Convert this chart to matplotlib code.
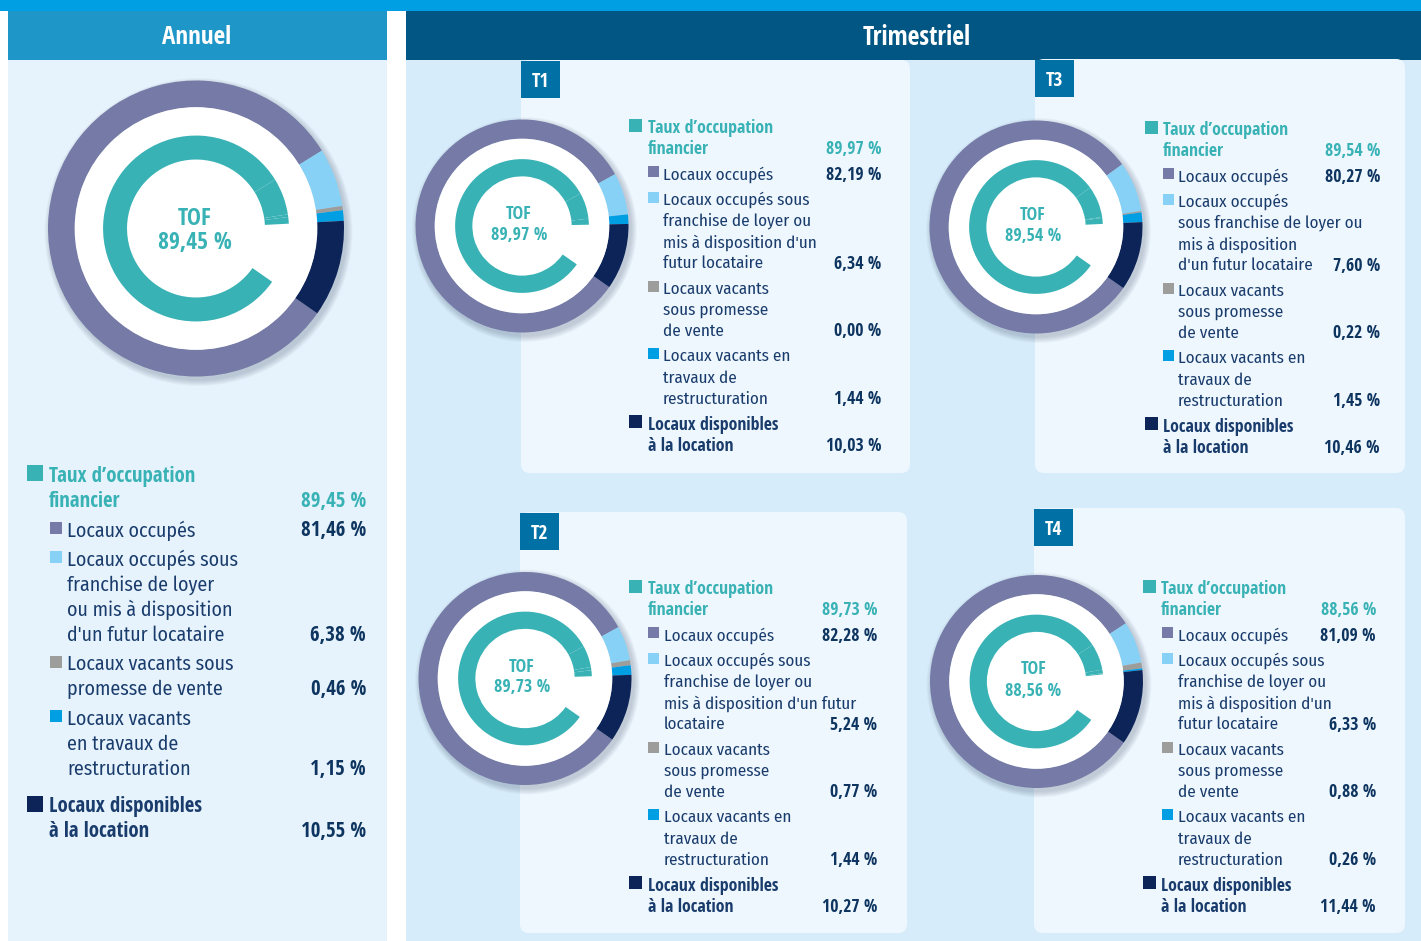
# Librairies
import matplotlib.pyplot as plt
from matplotlib.patches import Rectangle, FancyBboxPatch, Circle

bold_family = ['Open Sans Condensed', 'Fira Sans Condensed', 'DejaVu Sans']
regular_family = ['Open Sans Condensed Light', 'Fira Sans Condensed', 'Asap Condensed', 'DejaVu Sans']
plt.rcParams['font.family'] = bold_family

# Data
periodes = ["Annuel", "T1", "T2", "T3", "T4"]
tof = [89.45, 89.97, 89.73, 89.54, 88.56]
occupes = [81.46, 82.19, 82.28, 80.27, 81.09]
franchise = [6.38, 6.34, 5.24, 7.60, 6.33]
promesse = [0.46, 0.00, 0.77, 0.22, 0.88]
travaux = [1.15, 1.44, 1.44, 1.45, 0.26]
disponibles = [10.55, 10.03, 10.27, 10.46, 11.44]

labels_annuel = ["Taux d’occupation\nfinancier", "Locaux occupés",
                 "Locaux occupés sous\nfranchise de loyer\nou mis à disposition\nd'un futur locataire",
                 "Locaux vacants sous\npromesse de vente",
                 "Locaux vacants\nen travaux de\nrestructuration",
                 "Locaux disponibles\nà la location"]
labels_t1 = ["Taux d’occupation\nfinancier", "Locaux occupés",
             "Locaux occupés sous\nfranchise de loyer ou\nmis à disposition d'un\nfutur locataire",
             "Locaux vacants\nsous promesse\nde vente",
             "Locaux vacants en\ntravaux de\nrestructuration",
             "Locaux disponibles\nà la location"]
labels_t2 = ["Taux d’occupation\nfinancier", "Locaux occupés",
             "Locaux occupés sous\nfranchise de loyer ou\nmis à disposition d'un futur\nlocataire",
             "Locaux vacants\nsous promesse\nde vente",
             "Locaux vacants en\ntravaux de\nrestructuration",
             "Locaux disponibles\nà la location"]
labels_t3 = ["Taux d’occupation\nfinancier", "Locaux occupés",
             "Locaux occupés\nsous franchise de loyer ou\nmis à disposition\nd'un futur locataire",
             "Locaux vacants\nsous promesse\nde vente",
             "Locaux vacants en\ntravaux de\nrestructuration",
             "Locaux disponibles\nà la location"]
labels_t4 = labels_t1
labels = [labels_annuel, labels_t1, labels_t2, labels_t3, labels_t4]

# Colours
teal = '#38b2b5'
ring_colors = ['#757aa6', '#86d1f5', '#9d9d9c', '#009fe3', '#0c2458']
legend_colors = [teal] + ring_colors
txt_col = '#1a3c6c'
val_col = '#0e3460'

W, H = 1421, 941
fig = plt.figure(figsize=(W / 100, H / 100), dpi=100)
fig.patch.set_facecolor('white')
ax = fig.add_axes([0, 0, 1, 1])
ax.set_xlim(0, W)
ax.set_ylim(H, 0)
ax.axis('off')

# Background panels
ax.add_patch(Rectangle((0, 0), W, 11, color='#009fe3', lw=0))
ax.add_patch(Rectangle((8, 11), 379, 49, color='#1e96c8', lw=0))
ax.add_patch(Rectangle((8, 60), 379, 881, color='#e6f3fc', lw=0))
ax.add_patch(Rectangle((406, 11), W - 406, 49, color='#025683', lw=0))
ax.add_patch(Rectangle((406, 60), W - 406, 881, color='#d7ecfa', lw=0))
ax.text(197, 37, "Annuel", color='white', fontsize=18, ha='center', va='center')
ax.text(917, 37, "Trimestriel", color='white', fontsize=18.5, ha='center', va='center')

# Cards (x, y, w, h) and tag boxes
cards = {"T1": (521, 60, 389, 413), "T2": (520, 512, 387, 421),
         "T3": (1035, 59, 370, 414), "T4": (1034, 508, 371, 425)}
for name, (x, y, w, h) in cards.items():
    ax.add_patch(FancyBboxPatch((x, y), w, h, boxstyle="round,pad=0,rounding_size=9",
                                fc='#eef7fe', ec='none'))
    ax.add_patch(Rectangle((x, y + 1), 39, 37, color='#0070a5', lw=0))
    ax.text(x + 19.5, y + 22, name, color='white', fontsize=14, ha='center', va='center')


def fmt(v):
    return f"{v:.2f}".replace('.', ',') + " %"


def donut(cx, cy, R, vals, tof_val, fs, dy_tof, dy_val, dx):
    h = R + 14
    a = fig.add_axes([(cx - h) / W, 1 - (cy + h) / H, 2 * h / W, 2 * h / H])
    for k in range(7):
        a.add_patch(Circle((2.5, -3.5), R + 0.5 + k * 0.9, color='#1c2a4a', alpha=0.03, lw=0))
    a.pie(vals, colors=ring_colors, radius=R, startangle=-35, counterclock=False,
          wedgeprops=dict(width=0.182 * R, linewidth=0))
    a.add_patch(Circle((0, 0), 0.82 * R, color='white', lw=0, zorder=2))
    a.pie(vals, colors=[teal] * 4 + ['none'], radius=0.628 * R, startangle=-35, counterclock=False,
          wedgeprops=dict(width=0.162 * R, linewidth=0, zorder=3))
    a.set_xlim(-h, h)
    a.set_ylim(-h, h)
    a.axis('off')
    a.text(dx, -dy_tof, "TOF", color=teal, fontsize=fs, ha='center', va='center', zorder=5)
    a.text(dx, -dy_val, fmt(tof_val), color=teal, fontsize=fs, ha='center', va='center', zorder=5)


def legend(i, x_sq, x_sub_sq, x_txt, x_sub_txt, y0, lh, gap, extra, vx, fs, sqb, sqs):
    vals = [tof[i], occupes[i], franchise[i], promesse[i], travaux[i], disponibles[i]]
    y = y0
    for k, (lab, v) in enumerate(zip(labels[i], vals)):
        lines = lab.split('\n')
        if k == 5:
            y += extra
        main = k in (0, 5)
        sq = sqb if main else sqs
        xs = x_sq if main else x_sub_sq
        ax.add_patch(Rectangle((xs, y - sq / 2 - 1), sq, sq, color=legend_colors[k], lw=0))
        col = teal if k == 0 else txt_col
        vcol = teal if k == 0 else val_col
        for j, ln in enumerate(lines):
            if main:
                ax.text(x_txt, y + j * lh + 2, ln, color=col, fontsize=fs,
                        family=bold_family, ha='left', va='center')
            else:
                ax.text(x_sub_txt, y + j * lh + 2, ln, color=col, fontsize=fs * 0.96,
                        family=regular_family, ha='left', va='center')
        ax.text(vx, y + (len(lines) - 1) * lh + 2, fmt(v), color=vcol, fontsize=fs,
                ha='right', va='center')
        y += len(lines) * lh + gap


# Annuel
vals0 = [occupes[0], franchise[0], promesse[0], travaux[0], disponibles[0]]
donut(196, 228.5, 148, vals0, tof[0], 17, -9.5, 14.5, -1)
legend(0, 27, 50, 49, 67, 474, 25, 4.5, 8, 366, 15, 16, 12)

# Trimestriel
centres = {1: (522, 226), 2: (525, 678.5), 3: (1036, 227), 4: (1036.5, 681.5)}
leg_pos = {1: (629, 648, 648, 663, 126, 881),
           2: (629, 648, 648, 664, 587, 877),
           3: (1145, 1163, 1163, 1178, 128, 1380),
           4: (1143, 1162, 1161, 1178, 587, 1376)}
for i in range(1, 5):
    vals = [occupes[i], franchise[i], promesse[i], travaux[i], disponibles[i]]
    cx, cy = centres[i]
    donut(cx, cy, 106.5, vals, tof[i], 13, -12, 9, -3)
    x_sq, x_sub_sq, x_txt, x_sub_txt, y0, vx = leg_pos[i]
    legend(i, x_sq, x_sub_sq, x_txt, x_sub_txt, y0, 21.2, 4.2, 0, vx, 12.8, 13, 11)

fig.savefig("out.png", dpi=100)
